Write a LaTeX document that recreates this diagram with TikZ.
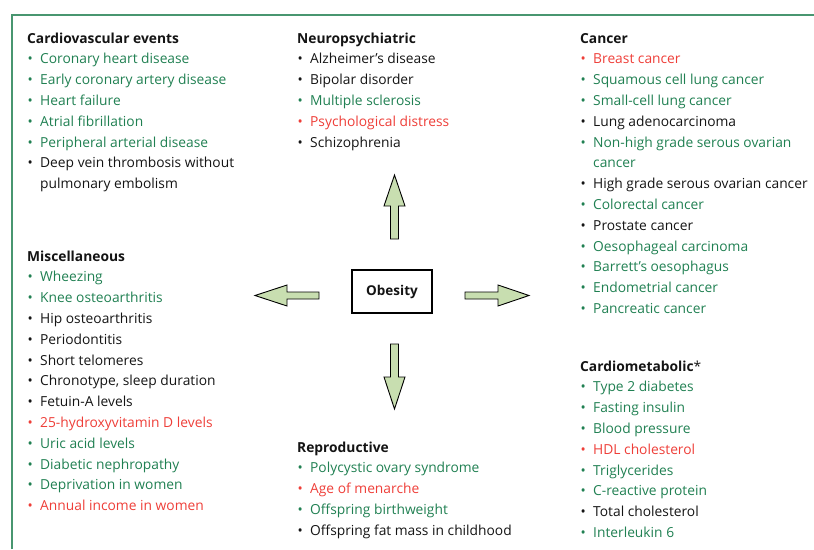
\documentclass[tikz,border=0pt]{standalone}
\usepackage{fontspec}
\setmainfont{Open Sans}
\definecolor{tgreen}{RGB}{32,128,82}
\definecolor{tred}{RGB}{238,62,56}
\definecolor{tblack}{RGB}{20,20,20}
\definecolor{framegreen}{RGB}{72,150,112}
\definecolor{arrowfill}{RGB}{200,222,176}
\newcommand{\itm}[2]{\\\textcolor{#1}{\makebox[13pt][l]{\hspace{0.5pt}•}#2}}
\newcommand{\cnt}[2]{\\\textcolor{#1}{\hspace*{13pt}#2}}
\newenvironment{blist}{\begin{tabular}[t]{@{}l@{}}}{\end{tabular}}
\begin{document}
\begin{tikzpicture}[x=1pt,y=-1pt,
  block/.style={anchor=base west, inner sep=0pt, text=tblack,
    font=\fontsize{13.8}{20.8}\selectfont},
  blockarrow/.style={fill=arrowfill, draw=black, line width=0.9pt, line join=miter},
  centerbox/.style={draw=black, line width=1.1pt, minimum width=80pt, minimum height=43pt,
    font=\fontsize{13.5}{16}\selectfont\bfseries, text=tblack}]
\useasboundingbox (0,0) rectangle (814,549);
\draw[framegreen, line width=1.3pt] (12,549) -- (12,15) -- (814,15);

\node[block] (cardio) at (27,43) {\begin{blist}\textbf{Cardiovascular events}%
  \itm{tgreen}{Coronary heart disease}%
  \itm{tgreen}{Early coronary artery disease}%
  \itm{tgreen}{Heart failure}%
  \itm{tgreen}{Atrial fibrillation}%
  \itm{tgreen}{Peripheral arterial disease}%
  \itm{tblack}{Deep vein thrombosis without}%
  \cnt{tblack}{pulmonary embolism}\end{blist}};

\node[block] (neuro) at (297,43) {\begin{blist}\textbf{Neuropsychiatric}%
  \itm{tblack}{Alzheimer’s disease}%
  \itm{tblack}{Bipolar disorder}%
  \itm{tgreen}{Multiple sclerosis}%
  \itm{tred}{Psychological distress}%
  \itm{tblack}{Schizophrenia}\end{blist}};

\node[block] (cancer) at (580,43) {\begin{blist}\textbf{Cancer}%
  \itm{tred}{Breast cancer}%
  \itm{tgreen}{Squamous cell lung cancer}%
  \itm{tgreen}{Small-cell lung cancer}%
  \itm{tblack}{Lung adenocarcinoma}%
  \itm{tgreen}{Non-high grade serous ovarian}%
  \cnt{tgreen}{cancer}%
  \itm{tblack}{High grade serous ovarian cancer}%
  \itm{tgreen}{Colorectal cancer}%
  \itm{tblack}{Prostate cancer}%
  \itm{tgreen}{Oesophageal carcinoma}%
  \itm{tgreen}{Barrett’s oesophagus}%
  \itm{tgreen}{Endometrial cancer}%
  \itm{tgreen}{Pancreatic cancer}\end{blist}};

\node[block] (misc) at (27,261) {\begin{blist}\textbf{Miscellaneous}%
  \itm{tgreen}{Wheezing}%
  \itm{tgreen}{Knee osteoarthritis}%
  \itm{tblack}{Hip osteoarthritis}%
  \itm{tblack}{Periodontitis}%
  \itm{tblack}{Short telomeres}%
  \itm{tblack}{Chronotype, sleep duration}%
  \itm{tblack}{Fetuin-A levels}%
  \itm{tred}{25-hydroxyvitamin D levels}%
  \itm{tgreen}{Uric acid levels}%
  \itm{tgreen}{Diabetic nephropathy}%
  \itm{tgreen}{Deprivation in women}%
  \itm{tred}{Annual income in women}\end{blist}};

\node[block] (cardiomet) at (580,371) {\begin{blist}\textbf{Cardiometabolic}*%
  \itm{tgreen}{Type 2 diabetes}%
  \itm{tgreen}{Fasting insulin}%
  \itm{tgreen}{Blood pressure}%
  \itm{tred}{HDL cholesterol}%
  \itm{tgreen}{Triglycerides}%
  \itm{tgreen}{C-reactive protein}%
  \itm{tblack}{Total cholesterol}%
  \itm{tgreen}{Interleukin 6}\end{blist}};

\node[block] (repro) at (297,452) {\begin{blist}\textbf{Reproductive}%
  \itm{tgreen}{Polycystic ovary syndrome}%
  \itm{tred}{Age of menarche}%
  \itm{tgreen}{Offspring birthweight}%
  \itm{tblack}{Offspring fat mass in childhood}\end{blist}};

\node[centerbox] (obesity) at (392,291.5) {Obesity};

% up arrow
\draw[blockarrow] (390.5,239) -- (390.5,206) -- (384,206) -- (394.5,175) -- (405,206) -- (398.5,206) -- (398.5,239) -- cycle;
% down arrow
\draw[blockarrow] (390.5,344) -- (390.5,377) -- (384,377) -- (394.5,409) -- (405,377) -- (398.5,377) -- (398.5,344) -- cycle;
% left arrow
\draw[blockarrow] (319,292) -- (287,292) -- (287,285) -- (255,295.5) -- (287,306) -- (287,299) -- (319,299) -- cycle;
% right arrow
\draw[blockarrow] (465,292) -- (498,292) -- (498,285) -- (529,295.5) -- (498,306) -- (498,299) -- (465,299) -- cycle;
\end{tikzpicture}
\end{document}
